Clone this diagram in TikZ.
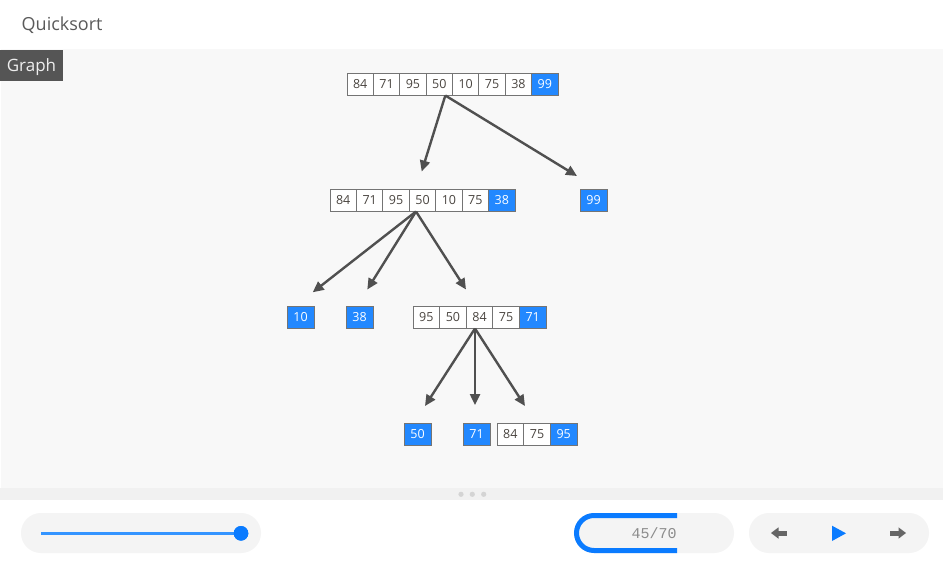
\documentclass[tikz,border=0pt]{standalone}
\usepackage{fontspec}
\setmainfont{Open Sans}
\newfontfamily\monofam{Liberation Mono}
\usetikzlibrary{arrows.meta}
\definecolor{bluecell}{HTML}{2288FF}
\definecolor{cellborder}{HTML}{747474}
\definecolor{celltext}{HTML}{4A4540}
\definecolor{edgecol}{HTML}{505050}
\definecolor{canvas}{HTML}{F8F8F8}
\definecolor{band}{HTML}{F1F1F1}
\definecolor{dotcol}{HTML}{D4D4D4}
\definecolor{pill}{HTML}{F4F4F4}
\definecolor{labelbg}{HTML}{555555}
\definecolor{labeltext}{HTML}{EEEEEE}
\definecolor{titlecol}{HTML}{5A5A5A}
\definecolor{uiblue}{HTML}{0A7BFF}
\definecolor{sliderline}{HTML}{3394FF}
\definecolor{btngray}{HTML}{666666}
\newcommand{\cellrow}[6]{%
  \foreach \v [count=\i] in {#5} {
    \node[cell, minimum width=#3pt] (#1-\i) at ({#2+(\i-0.5)*#3}, #4) {\v};
  }
  \node[bcell, minimum width=#3pt] (#1-b) at ({#2+(#6-0.5)*#3}, #4) {};
}
\begin{document}
\begin{tikzpicture}[x=1pt,y=-1pt,
  cell/.style={draw=cellborder, line width=1pt, fill=white, minimum height=22pt,
    inner sep=0pt, text=celltext, font=\fontsize{12.5}{12.5}\selectfont},
  bcell/.style={cell, fill=bluecell, text=white},
  btext/.style={text=white, font=\fontsize{12.5}{12.5}\selectfont, inner sep=0pt},
  edge/.style={draw=edgecol, line width=2.4pt,
    -{Triangle[length=11pt,width=10pt]}},
  pillshape/.style={fill=pill, rounded corners=20pt},
]
\useasboundingbox (0,0) rectangle (943,563);
\fill[white] (0,0) rectangle (943,563);
% canvas
\fill[canvas] (1,49) rectangle (943,488);
\fill[band] (0,488) rectangle (943,500);
\fill[dotcol] (461,494.3) circle (2.6pt) (472.3,494.3) circle (2.6pt) (483.7,494.3) circle (2.6pt);
% title and label
\node[anchor=west, text=titlecol, inner sep=0pt, font=\fontsize{18}{18}\selectfont] (title) at (21.5,25.5) {Quicksort};
\node[fill=labelbg, anchor=north west, minimum width=63pt, minimum height=31pt, inner sep=0pt] (graph) at (0,50) {};
\node[text=labeltext, inner sep=0pt, font=\fontsize{17}{17}\selectfont] (graphtext) at (31.5,67) {Graph};

% level 1
\cellrow{t}{347}{26.375}{84}{84,71,95,50,10,75,38}{8}
\node[btext] at (t-b) {99};
% level 2
\cellrow{m}{330}{26.43}{200}{84,71,95,50,10,75}{7}
\node[btext] at (m-b) {38};
\node[bcell, minimum width=27pt] (n99) at (593.5,200) {99};
% level 3
\node[bcell, minimum width=27pt] (n10) at (300.5,317) {10};
\node[bcell, minimum width=27pt] (n38) at (359.5,317) {38};
\cellrow{r}{413}{26.6}{317}{95,50,84,75}{5}
\node[btext] at (r-b) {71};
% level 4
\node[bcell, minimum width=27pt] (n50) at (417.5,434) {50};
\node[bcell, minimum width=27pt] (n71) at (476.5,434) {71};
\cellrow{s}{497}{26.67}{434}{84,75}{3}
\node[btext] at (s-b) {95};

% arrow ends
\coordinate (e1) at (421.7,171.5);
\coordinate (e2) at (577,176);
\coordinate (e3) at (312.7,292.3);
\coordinate (e4) at (367.3,289.5);
\coordinate (e5) at (466,289.5);
\coordinate (e6) at (425,406);
\coordinate (e7) at (475,405);
\coordinate (e8) at (525,406);
\draw[edge] ([xshift=6pt]t-4.south) -- (e1);
\draw[edge] ([xshift=6pt]t-4.south) -- (e2);
\draw[edge] ([xshift=-6.5pt]m-4.south) -- (e3);
\draw[edge] ([xshift=-6.5pt]m-4.south) -- (e4);
\draw[edge] ([xshift=-6.5pt]m-4.south) -- (e5);
\draw[edge] ([xshift=-4.5pt]r-3.south) -- (e6);
\draw[edge] ([xshift=-4.5pt]r-3.south) -- (e7);
\draw[edge] ([xshift=-4.5pt]r-3.south) -- (e8);

% bottom controls
\fill[pillshape] (21,513) rectangle (261,553);
\coordinate (sl0) at (41,533.3);
\node[circle, fill=uiblue, minimum size=14.6pt, inner sep=0pt] (knob) at (241,533.3) {};
\draw[sliderline, line width=3pt] (sl0) -- (knob.center);
\fill[uiblue] (knob) circle (7.3pt);

\fill[pillshape] (574,513) rectangle (734,553);
\draw[uiblue, line width=5pt, rounded corners=17.5pt] (677,515.5) -- (576.5,515.5) -- (576.5,550.5) -- (677,550.5);
\node[text=gray!90, font=\monofam\fontsize{15}{15}\selectfont, inner sep=0pt] (counter) at (654,533) {45/70};

\fill[pillshape] (749,513) rectangle (929,553);
\fill[btngray] (771,533) -- (778.5,527.3) -- (778.5,538.7) -- cycle;
\fill[btngray] (778,530.5) rectangle (787,535.7);
\fill[uiblue] (832,525.7) -- (846,533.3) -- (832,541) -- cycle;
\fill[btngray] (906,533) -- (898.5,527.3) -- (898.5,538.7) -- cycle;
\fill[btngray] (890,530.5) rectangle (899,535.7);
\end{tikzpicture}
\end{document}
